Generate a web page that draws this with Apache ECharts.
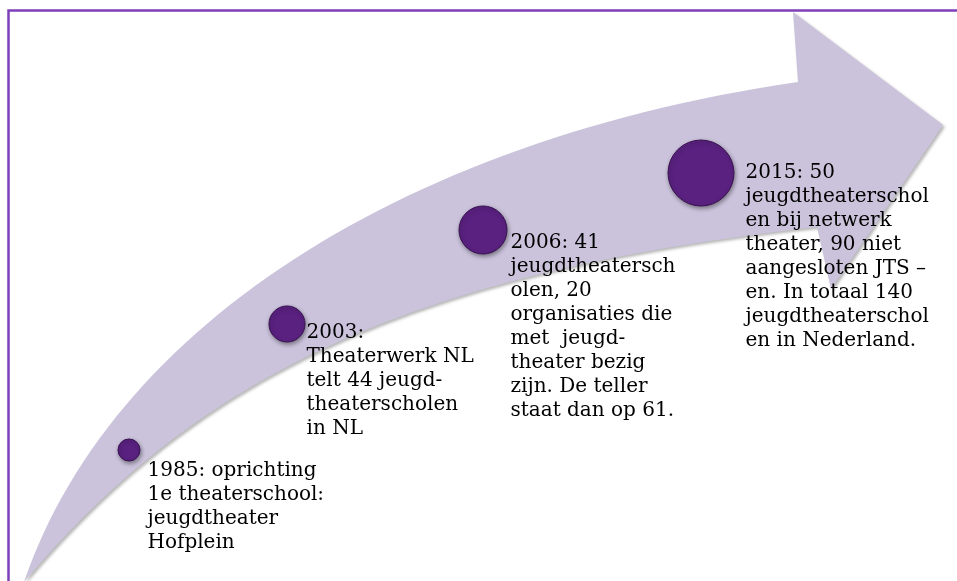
<!DOCTYPE html>
<html>
<head>
<meta charset="utf-8">
<style>
  html, body { margin: 0; padding: 0; background: #ffffff; }
  #chart { width: 957px; height: 581px; }
</style>
<script src="https://cdn.jsdelivr.net/npm/echarts@6/dist/echarts.min.js"></script>
</head>
<body>
<div id="chart"></div>
<script>
// ---- data ----
const years = ['1985', '2003', '2006', '2015'];
const descriptions = [
  ['1985: oprichting', '1e theaterschool:', 'jeugdtheater', 'Hofplein'],
  ['2003:', 'Theaterwerk NL', 'telt 44 jeugd-', 'theaterscholen', 'in NL'],
  ['2006: 41', 'jeugdtheatersch', 'olen, 20', 'organisaties die', 'met  jeugd-', 'theater bezig', 'zijn. De teller', 'staat dan op 61.'],
  ['2015: 50', 'jeugdtheaterschol', 'en bij netwerk', 'theater, 90 niet', 'aangesloten JTS \u2013', 'en. In totaal 140', 'jeugdtheaterschol', 'en in Nederland.']
];

// ---- layout (diagram canvas positions, not data) ----
const nodeCenters = [[129, 450], [287, 324], [483, 230], [701, 173]];
const nodeDiameters = [22, 36, 48, 66];
const textTopLeft = [[148, 459], [307, 321], [511, 231], [746, 161]];

const W = 957, H = 581;

// curved arrow outline (decorative shape, built from cubic curves)
function cubic(p0, p1, p2, p3, n) {
  const out = [];
  for (let k = 0; k <= n; k++) {
    const t = k / n, u = 1 - t;
    const a = u * u * u, b = 3 * u * u * t, c = 3 * u * t * t, d = t * t * t;
    out.push([a * p0[0] + b * p1[0] + c * p2[0] + d * p3[0],
              a * p0[1] + b * p1[1] + c * p2[1] + d * p3[1]]);
  }
  return out;
}
const upperEdge = cubic([24, 582], [110, 330], [400, 140], [798, 82], 60);
const headPts = [[793, 12], [943, 125], [831, 289]];
const lowerEdge = cubic([817, 227], [407, 272.5], [196, 378], [24, 582], 60);
const arrowPoints = upperEdge.concat(headPts, lowerEdge);

const seriesData = years.map(function (y, i) {
  const c = nodeCenters[i], d = nodeDiameters[i], t = textTopLeft[i];
  return {
    name: y,
    value: [c[0], c[1]],
    symbolSize: d,
    label: {
      show: true,
      position: [t[0] - (c[0] - d / 2), t[1] - (c[1] - d / 2)],
      align: 'left',
      verticalAlign: 'top',
      formatter: descriptions[i].join('\n')
    }
  };
});

const chart = echarts.init(document.getElementById('chart'), null, { renderer: 'canvas' });
chart.setOption({
  backgroundColor: '#ffffff',
  animation: false,
  grid: { left: 0, right: 0, top: 0, bottom: 0 },
  xAxis: { type: 'value', min: 0, max: W, show: false },
  yAxis: { type: 'value', min: 0, max: H, inverse: true, show: false },
  graphic: [
    {
      type: 'rect',
      z: 0,
      shape: { x: 8.5, y: 10.5, width: 1200, height: 1200 },
      style: { fill: 'none', stroke: '#7f3fba', lineWidth: 2.5 }
    },
    {
      type: 'polygon',
      z: 1,
      shape: { points: arrowPoints },
      style: {
        fill: '#cbc3dc',
        shadowBlur: 3,
        shadowColor: 'rgba(0,0,0,0.28)',
        shadowOffsetX: 2,
        shadowOffsetY: 2
      }
    }
  ],
  series: [{
    type: 'scatter',
    z: 10,
    symbol: 'circle',
    data: seriesData,
    itemStyle: {
      color: '#5a2181',
      opacity: 1,
      borderColor: '#3a1252',
      borderWidth: 1,
      shadowBlur: 4,
      shadowColor: 'rgba(0,0,0,0.4)',
      shadowOffsetX: 1,
      shadowOffsetY: 2
    },
    label: {
      color: '#000000',
      fontFamily: 'DejaVu Serif',
      fontSize: 20,
      lineHeight: 24
    },
    emphasis: { disabled: true }
  }]
});
</script>
</body>
</html>
